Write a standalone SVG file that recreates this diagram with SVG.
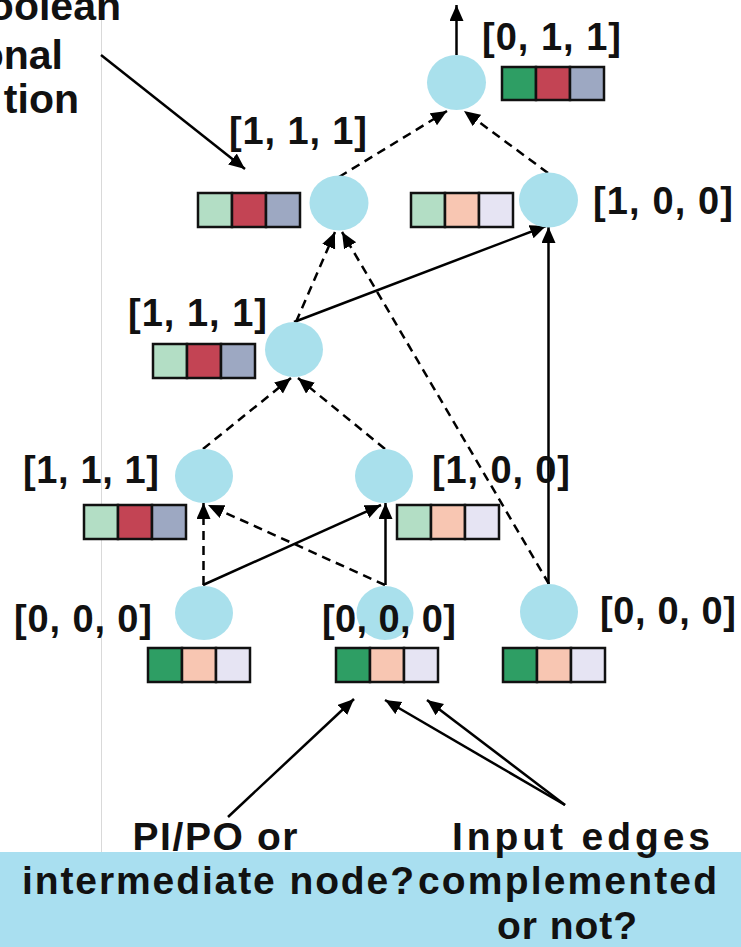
<svg xmlns="http://www.w3.org/2000/svg" width="741" height="947" viewBox="0 0 741 947">
<defs>
<style>
.n{fill:#A9E0EC}
.t{font-family:"Liberation Sans",Arial,sans-serif;font-weight:bold;fill:#111}
.lbl{font-size:38px}
.big{font-size:39px}
.tl{font-size:41px}
.e{stroke:#000;stroke-width:2.5;fill:none;marker-end:url(#ah)}
.d{stroke-dasharray:9 6}
.b{stroke:#111;stroke-width:2.5}
.g1{fill:#2E9E64}.g2{fill:#B3DEC5}.r{fill:#C34454}.s{fill:#9DA8C2}.p{fill:#F8C6B2}.v{fill:#E6E4F3}
</style>
<marker id="ah" markerUnits="userSpaceOnUse" markerWidth="17" markerHeight="15" refX="16" refY="7" orient="auto">
<path d="M0,0 L16,7 L0,14 z" fill="#000"/>
</marker>
</defs>
<rect width="741" height="947" fill="#fff"/>
<line x1="101.5" y1="0" x2="101.5" y2="852" stroke="#d9d9d9" stroke-width="1"/>
<rect x="0" y="852" width="741" height="95" fill="#A9DFF0"/>

<g id="connectors">
<line class="e" x1="456.5" y1="55" x2="456.5" y2="5"/>
<line class="e d" x1="339" y1="177" x2="447" y2="111"/>
<line class="e d" x1="548" y1="173" x2="464" y2="111"/>
<line class="e d" x1="296" y1="322" x2="335" y2="232"/>
<line class="e" x1="294" y1="322" x2="546" y2="226"/>
<line class="e d" x1="549" y1="584" x2="342" y2="232"/>
<line class="e" x1="548.5" y1="584" x2="548.5" y2="227"/>
<line class="e d" x1="203" y1="449" x2="291" y2="378"/>
<line class="e d" x1="385" y1="449" x2="298" y2="378"/>
<line class="e d" x1="203.5" y1="585" x2="203.5" y2="503"/>
<line class="e" x1="203" y1="585" x2="381" y2="505"/>
<line class="e d" x1="385" y1="585" x2="208" y2="505"/>
<line class="e" x1="385.5" y1="585" x2="385.5" y2="503"/>
<line class="e" x1="101" y1="55" x2="245" y2="169"/>
<line class="e" x1="228" y1="817" x2="354" y2="699"/>
<line class="e" x1="565" y1="805" x2="385" y2="700"/>
<line class="e" x1="565" y1="805" x2="427" y2="700"/>
</g>

<g id="node-top">
<ellipse class="n" cx="456.5" cy="82.5" rx="29.5" ry="27.5"/>
<rect class="g1 b" x="502" y="67" width="34" height="33"/><rect class="r b" x="536" y="67" width="34" height="33"/><rect class="s b" x="570" y="67" width="34" height="33"/>
<text class="t lbl" x="482" y="50" textLength="139">[0, 1, 1]</text>
</g>
<g id="node-l2a">
<ellipse class="n" cx="339" cy="203" rx="29.5" ry="27.5"/>
<rect class="g2 b" x="198" y="193" width="34" height="34"/><rect class="r b" x="232" y="193" width="34" height="34"/><rect class="s b" x="266" y="193" width="34" height="34"/>
<text class="t lbl" x="229" y="144" textLength="138">[1, 1, 1]</text>
</g>
<g id="node-l2b">
<ellipse class="n" cx="548.5" cy="200" rx="29.5" ry="27.5"/>
<rect class="g2 b" x="411" y="193" width="34" height="34"/><rect class="p b" x="445" y="193" width="34" height="34"/><rect class="v b" x="479" y="193" width="34" height="34"/>
<text class="t lbl" x="593" y="214" textLength="140">[1, 0, 0]</text>
</g>
<g id="node-l3">
<ellipse class="n" cx="294" cy="349.5" rx="29" ry="27.5"/>
<rect class="g2 b" x="153" y="344" width="34" height="34"/><rect class="r b" x="187" y="344" width="34" height="34"/><rect class="s b" x="221" y="344" width="34" height="34"/>
<text class="t lbl" x="128" y="326" textLength="139">[1, 1, 1]</text>
</g>
<g id="node-l4a">
<ellipse class="n" cx="204" cy="476" rx="29" ry="27"/>
<rect class="g2 b" x="84" y="505" width="34" height="34"/><rect class="r b" x="118" y="505" width="34" height="34"/><rect class="s b" x="152" y="505" width="34" height="34"/>
<text class="t lbl" x="23" y="483" textLength="136">[1, 1, 1]</text>
</g>
<g id="node-l4b">
<ellipse class="n" cx="384" cy="476" rx="29" ry="27"/>
<rect class="g2 b" x="397" y="505" width="34" height="34"/><rect class="p b" x="431" y="505" width="34" height="34"/><rect class="v b" x="465" y="505" width="34" height="34"/>
<text class="t lbl" x="432" y="483" textLength="138">[1, 0, 0]</text>
</g>
<g id="node-l5a">
<ellipse class="n" cx="204" cy="613" rx="29" ry="27"/>
<rect class="g1 b" x="148" y="648" width="34" height="34"/><rect class="p b" x="182" y="648" width="34" height="34"/><rect class="v b" x="216" y="648" width="34" height="34"/>
<text class="t lbl" x="14" y="632" textLength="138">[0, 0, 0]</text>
</g>
<g id="node-l5b">
<ellipse class="n" cx="385" cy="613" rx="28.5" ry="27"/>
<rect class="g1 b" x="336" y="648" width="34" height="34"/><rect class="p b" x="370" y="648" width="34" height="34"/><rect class="v b" x="404" y="648" width="34" height="34"/>
<text class="t lbl" x="322" y="632" textLength="134">[0, 0, 0]</text>
</g>
<g id="node-l5c">
<ellipse class="n" cx="549" cy="612" rx="29" ry="28"/>
<rect class="g1 b" x="503" y="648" width="34" height="34"/><rect class="p b" x="537" y="648" width="34" height="34"/><rect class="v b" x="571" y="648" width="34" height="34"/>
<text class="t lbl" x="600" y="624" textLength="136">[0, 0, 0]</text>
</g>

<g id="annotations">
<text class="t tl" x="121" y="20" text-anchor="end">oolean</text>
<text class="t tl" x="63" y="69" text-anchor="end">onal</text>
<text class="t tl" x="79" y="113" text-anchor="end">tion</text>
<text class="t big" x="215" y="850" text-anchor="middle" textLength="165">PI/PO or</text>
<text class="t big" x="581" y="850" text-anchor="middle" textLength="258">Input edges</text>
<text class="t big" x="22" y="894" textLength="392">intermediate node?</text>
<text class="t big" x="418" y="894" textLength="299">complemented</text>
<text class="t big" x="567" y="939" text-anchor="middle" textLength="140">or not?</text>
</g>
</svg>
